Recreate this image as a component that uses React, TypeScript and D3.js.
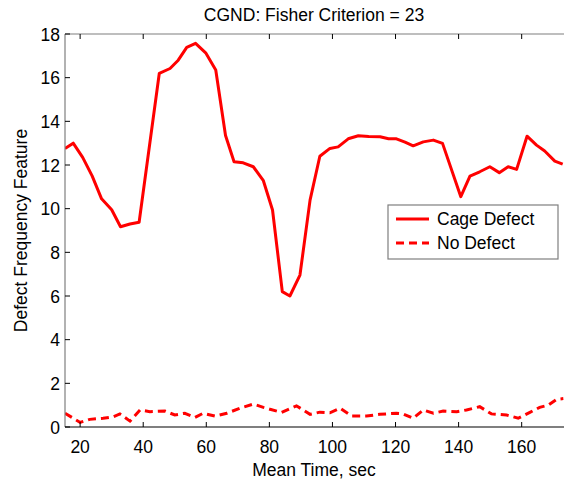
import React from "react";
import * as d3 from "d3";

const title = "CGND: Fisher Criterion = 23";
const xLabel = "Mean Time, sec";
const yLabel = "Defect Frequency Feature";
const xTicks = [20, 40, 60, 80, 100, 120, 140, 160];
const yTicks = [0, 2, 4, 6, 8, 10, 12, 14, 16, 18];
const seriesNames = ["Cage Defect", "No Defect"];

const cageTime = [15.2, 17.8, 20.8, 23.8, 26.8, 30.0, 32.8, 35.8, 38.7, 45.1, 48.5, 51.1, 53.8, 56.6, 59.8, 63.0, 66.1, 68.8, 71.7, 74.9, 78.1, 81.0, 84.1, 86.5, 89.7, 92.9, 96.0, 99.2, 101.8, 105.0, 108.2, 111.5, 115.1, 117.8, 120.3, 123.0, 125.6, 128.8, 132.0, 134.9, 140.7, 143.6, 146.7, 149.9, 152.9, 155.7, 158.4, 161.7, 164.7, 167.3, 170.5, 173.0];
const cageValue = [12.75, 13.0, 12.35, 11.5, 10.45, 9.95, 9.17, 9.3, 9.38, 16.2, 16.42, 16.8, 17.39, 17.57, 17.14, 16.35, 13.35, 12.15, 12.1, 11.92, 11.28, 9.94, 6.2, 6.0, 6.96, 10.39, 12.4, 12.76, 12.83, 13.2, 13.34, 13.3, 13.29, 13.2, 13.2, 13.05, 12.88, 13.06, 13.14, 12.99, 10.55, 11.49, 11.69, 11.92, 11.65, 11.92, 11.8, 13.32, 12.91, 12.64, 12.18, 12.04];

const noTime = [15.2, 20.0, 23.1, 27.3, 30.5, 32.6, 35.8, 39.0, 42.1, 46.9, 50.0, 53.2, 56.4, 59.0, 62.7, 66.5, 70.7, 74.9, 78.1, 80.2, 83.9, 88.6, 92.9, 96.0, 99.2, 102.4, 106.1, 110.8, 115.0, 120.3, 122.4, 125.6, 128.8, 132.0, 135.1, 139.4, 142.5, 146.7, 150.4, 155.2, 158.9, 162.6, 165.7, 168.4, 171.1, 173.2];
const noValue = [0.63, 0.21, 0.35, 0.4, 0.47, 0.6, 0.27, 0.78, 0.7, 0.73, 0.55, 0.63, 0.44, 0.63, 0.5, 0.63, 0.86, 1.05, 0.9, 0.81, 0.67, 0.97, 0.58, 0.68, 0.65, 0.86, 0.5, 0.5, 0.58, 0.63, 0.6, 0.4, 0.78, 0.63, 0.73, 0.7, 0.78, 0.93, 0.6, 0.55, 0.4, 0.67, 0.9, 1.0, 1.27, 1.3];

const W = 564;
const H = 479;
const L = 65, T = 34, R = 563, B = 427;
const FONT = "'Liberation Sans', Arial, sans-serif";
const FS = 17.5;

export default function App() {
  const x = d3.scaleLinear().domain([15.2, 173.1]).range([L, R]);
  const y = d3.scaleLinear().domain([0, 18]).range([B, T]);
  const line = d3.line<[number, number]>().x((d) => x(d[0])).y((d) => y(d[1]));
  const cage = cageTime.map((t, i) => [t, cageValue[i]] as [number, number]);
  const none = noTime.map((t, i) => [t, noValue[i]] as [number, number]);
  const red = "#ff0000";
  const gray = "#7f7f7f";
  const lx = 388, ly = 205, lw = 170, lh = 54;
  const cx = (L + R) / 2;
  return (
    <svg width={W} height={H} style={{ position: "absolute", left: 0, top: 0, background: "#fff" }} fontFamily={FONT}>
      <rect x={0} y={0} width={W} height={H} fill="#fff" />
      <defs>
        <clipPath id="plotclip">
          <rect x={L} y={T - 2} width={R - L + 2} height={B - T + 4} />
        </clipPath>
      </defs>
      <g clipPath="url(#plotclip)">
        <path d={line(cage) || ""} fill="none" stroke={red} strokeWidth={3} strokeLinejoin="round" />
        <path d={line(none) || ""} fill="none" stroke={red} strokeWidth={3} strokeDasharray="8,5" />
      </g>
      <line x1={L} y1={T} x2={R + 1} y2={T} stroke={gray} strokeWidth={1.2} />
      <line x1={L} y1={T} x2={L} y2={B} stroke={gray} strokeWidth={1.2} />
      <line x1={L} y1={B} x2={R + 1} y2={B} stroke="#000" strokeWidth={1.2} />
      {xTicks.map((t) => (
        <g key={"x" + t}>
          <line x1={x(t)} x2={x(t)} y1={B} y2={B - 5} stroke="#000" />
          <line x1={x(t)} x2={x(t)} y1={T} y2={T + 5} stroke="#000" />
          <text x={x(t)} y={B + 26} textAnchor="middle" fontSize={FS} fill="#000">{t}</text>
        </g>
      ))}
      {yTicks.map((t) => (
        <g key={"y" + t}>
          <line x1={L} x2={L + 5} y1={y(t)} y2={y(t)} stroke="#000" />
          <text x={L - 5} y={y(t) + 6.5} textAnchor="end" fontSize={FS} fill="#000">{t}</text>
        </g>
      ))}
      <text x={cx} y={21} textAnchor="middle" fontSize={FS} fill="#000">{title}</text>
      <text x={cx} y={476} textAnchor="middle" fontSize={FS} fill="#000">{xLabel}</text>
      <text transform={`translate(27,${(T + B) / 2}) rotate(-90)`} textAnchor="middle" fontSize={FS} fill="#000">{yLabel}</text>
      <rect x={lx} y={ly} width={lw} height={lh} fill="#fff" stroke={gray} strokeWidth={1.2} />
      <line x1={lx + 8} x2={lx + 41} y1={ly + 14} y2={ly + 14} stroke={red} strokeWidth={3} />
      <text x={lx + 49} y={ly + 20} fontSize={FS} fill="#000">{seriesNames[0]}</text>
      <line x1={lx + 8} x2={lx + 41} y1={ly + 38} y2={ly + 38} stroke={red} strokeWidth={3} strokeDasharray="8,5" />
      <text x={lx + 49} y={ly + 44} fontSize={FS} fill="#000">{seriesNames[1]}</text>
    </svg>
  );
}
